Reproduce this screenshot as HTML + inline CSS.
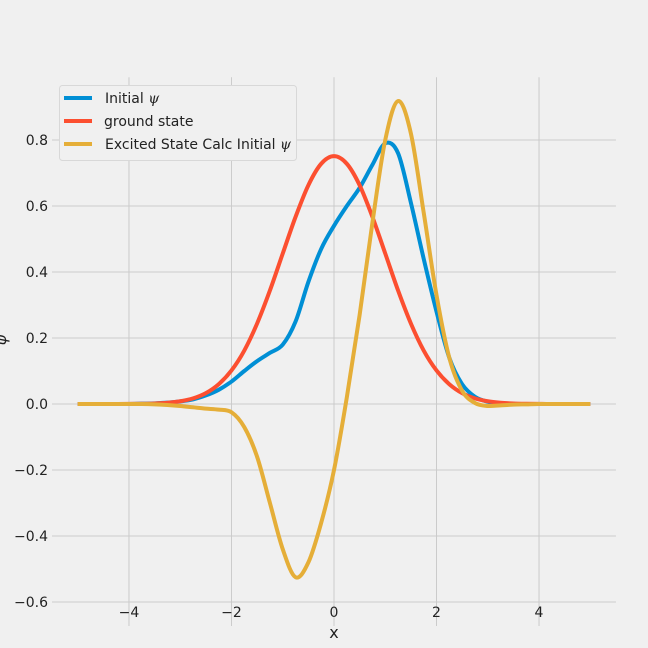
<!DOCTYPE html>
<html><head><meta charset="utf-8"><style>
html,body{margin:0;padding:0;background:#f0f0f0;}
svg{display:block;font-family:"DejaVu Sans","Liberation Sans",sans-serif;}
</style></head><body>
<svg id="chart" width="648" height="648" viewBox="0 0 648 648" xmlns="http://www.w3.org/2000/svg">
<rect x="0" y="0" width="648" height="648" fill="#f0f0f0"/>
<g id="grid"></g>
<g id="ticks"></g>
<g id="series"></g>
<text x="334" y="638" font-size="16" fill="#222" text-anchor="middle">x</text>
<text x="6" y="340" font-size="16" fill="#222" text-anchor="middle" transform="rotate(-90 6 340)" font-style="italic">ψ</text>
<g>
<rect x="59.5" y="85.5" width="237" height="75" rx="3" fill="#f0f0f0" stroke="#d8d8d8" stroke-width="1"/>
<line x1="64" y1="98" x2="92" y2="98" stroke="#008fd5" stroke-width="4"/>
<text x="105" y="103" font-size="14" fill="#222">Initial <tspan font-family="DejaVu Serif" font-style="italic">ψ</tspan></text>
<line x1="64" y1="121" x2="92" y2="121" stroke="#fc4f30" stroke-width="4"/>
<text x="104" y="126" font-size="14" fill="#222">ground state</text>
<line x1="64" y1="144" x2="92" y2="144" stroke="#e5ae38" stroke-width="4"/>
<text x="105" y="149" font-size="14" fill="#222">Excited State Calc Initial <tspan font-family="DejaVu Serif" font-style="italic">ψ</tspan></text>
</g>
</svg>
<script>
const xs = [-5,-4.75,-4.5,-4.25,-4,-3.75,-3.5,-3.25,-3,-2.75,-2.5,-2.25,-2,-1.75,-1.5,-1.25,-1,-0.75,-0.5,-0.25,0,0.25,0.5,0.75,1,1.25,1.5,1.75,2,2.25,2.5,2.75,3,3.25,3.5,3.75,4,4.25,4.5,4.75,5];
const initialPsi = [0,0,0,0,0,0.001,0.002,0.004,0.008,0.014,0.026,0.043,0.068,0.10,0.13,0.155,0.18,0.25,0.37,0.47,0.54,0.6,0.655,0.725,0.79,0.76,0.61,0.44,0.28,0.14,0.06,0.022,0.007,0.002,0.0005,0,0,0,0,0,0];
const groundState = [0,0,0.00003,0.0001,0.0003,0.0007,0.0016,0.0038,0.0083,0.017,0.033,0.060,0.1016,0.162,0.244,0.344,0.456,0.567,0.663,0.728,0.751,0.728,0.663,0.567,0.456,0.344,0.244,0.162,0.1016,0.060,0.033,0.017,0.0083,0.0038,0.0016,0.0007,0.0003,0.0001,0.00003,0,0];
const excitedPsi = [0,0,0,0,0,0,-0.001,-0.003,-0.006,-0.010,-0.014,-0.017,-0.025,-0.07,-0.16,-0.30,-0.44,-0.525,-0.48,-0.36,-0.2,0.02,0.27,0.55,0.80,0.918,0.82,0.58,0.33,0.14,0.04,0.003,-0.006,-0.004,-0.002,-0.001,0,0,0,0,0];
const xTicks = [-4,-2,0,2,4];
const xTickLabels = ["\u22124","\u22122","0","2","4"];
const yTicks = [-0.6,-0.4,-0.2,0,0.2,0.4,0.6,0.8];
const yTickLabels = ["\u22120.6","\u22120.4","\u22120.2","0.0","0.2","0.4","0.6","0.8"];

const NS = "http://www.w3.org/2000/svg";
const X0 = 52.1, X1 = 615.9, XMIN = -5.5, XMAX = 5.5;
const Y0 = 602, Y1 = 77.3, YMIN = -0.6, YMAX = 0.99;
function sx(v){ return X0 + (v - XMIN) / (XMAX - XMIN) * (X1 - X0); }
function sy(v){ return Y0 - (v - YMIN) / (YMAX - YMIN) * (Y0 - Y1); }

const grid = document.getElementById('grid');
const ticks = document.getElementById('ticks');
xTicks.forEach((t, i) => {
  const l = document.createElementNS(NS, 'line');
  
  
  l.setAttribute('x1', sx(t)); l.setAttribute('x2', sx(t));
  l.setAttribute('y1', Y1); l.setAttribute('y2', Y0 + 24);
  l.setAttribute('stroke', '#cbcbcb'); l.setAttribute('stroke-width', '1');
  grid.appendChild(l);
  const tx = document.createElementNS(NS, 'text');
  
  
  tx.setAttribute('x', sx(t)); tx.setAttribute('y', 617);
  tx.setAttribute('font-size', '14'); tx.setAttribute('fill', '#222');
  tx.setAttribute('text-anchor', 'middle');
  tx.textContent = xTickLabels[i];
  ticks.appendChild(tx);
});
yTicks.forEach((t, i) => {
  const l = document.createElementNS(NS, 'line');
  
  
  l.setAttribute('x1', 52); l.setAttribute('x2', X1);
  l.setAttribute('y1', sy(t)); l.setAttribute('y2', sy(t));
  l.setAttribute('stroke', '#cbcbcb'); l.setAttribute('stroke-width', '1');
  grid.appendChild(l);
  const tx = document.createElementNS(NS, 'text');
  
  
  tx.setAttribute('x', 48); tx.setAttribute('y', sy(t) + 5);
  tx.setAttribute('font-size', '14'); tx.setAttribute('fill', '#222');
  tx.setAttribute('text-anchor', 'end');
  tx.textContent = yTickLabels[i];
  ticks.appendChild(tx);
});

function smoothPath(ys){
  const p = xs.map((x, i) => [sx(x), sy(ys[i])]);
  let d = 'M' + p[0][0].toFixed(2) + ',' + p[0][1].toFixed(2);
  for (let i = 0; i < p.length - 1; i++) {
    const a = p[Math.max(i - 1, 0)], b = p[i], c = p[i + 1], e = p[Math.min(i + 2, p.length - 1)];
    const c1 = [b[0] + (c[0] - a[0]) / 6, b[1] + (c[1] - a[1]) / 6];
    const c2 = [c[0] - (e[0] - b[0]) / 6, c[1] - (e[1] - b[1]) / 6];
    d += ' C' + c1[0].toFixed(2) + ',' + c1[1].toFixed(2) + ' ' + c2[0].toFixed(2) + ',' + c2[1].toFixed(2) + ' ' + c[0].toFixed(2) + ',' + c[1].toFixed(2);
  }
  return d;
}
const series = document.getElementById('series');
const s1 = document.createElementNS(NS, 'path');


s1.setAttribute('d', smoothPath(initialPsi));
s1.setAttribute('stroke', '#008fd5');
series.appendChild(s1);
const s2 = document.createElementNS(NS, 'path');


s2.setAttribute('d', smoothPath(groundState));
s2.setAttribute('stroke', '#fc4f30');
series.appendChild(s2);
const s3 = document.createElementNS(NS, 'path');


s3.setAttribute('d', smoothPath(excitedPsi));
s3.setAttribute('stroke', '#e5ae38');
series.appendChild(s3);
[s1, s2, s3].forEach(s => { s.setAttribute('fill', 'none'); s.setAttribute('stroke-width', '4'); s.setAttribute('stroke-linejoin', 'round'); });
</script>
</body></html>
